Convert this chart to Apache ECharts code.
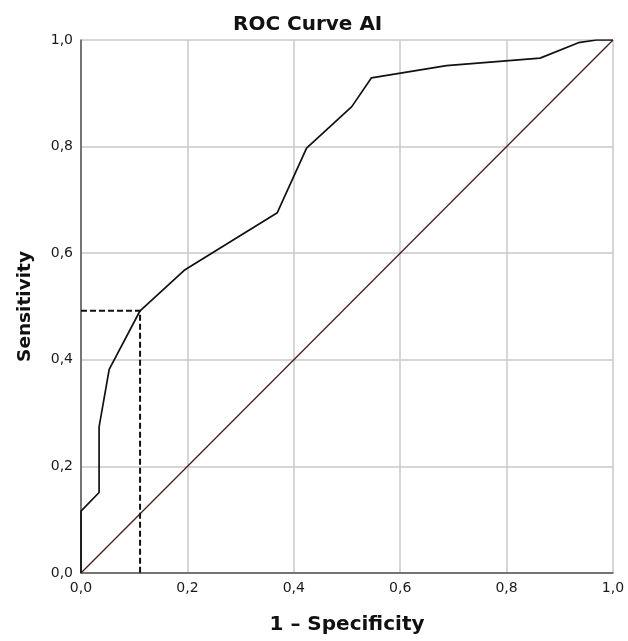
<!DOCTYPE html>
<html><head><meta charset="utf-8">
<script src="https://cdn.jsdelivr.net/npm/echarts@6/dist/echarts.min.js"></script>
<style>html,body{margin:0;padding:0;background:#fff}#c{width:628px;height:641px}</style>
</head><body><div id="c"></div>
<script>
const rocX = [0, 0, 0.034, 0.034, 0.053, 0.111, 0.194, 0.369, 0.424, 0.509, 0.546, 0.687, 0.863, 0.935, 0.969, 1.0];
const rocY = [0, 0.116, 0.151, 0.274, 0.382, 0.492, 0.568, 0.676, 0.797, 0.875, 0.929, 0.952, 0.966, 0.995, 1.0, 1.0];
const refX = [0, 1];
const refY = [0, 1];
const cutX = [0, 0.111, 0.111];
const cutY = [0.492, 0.492, 0];
const ticks = [0, 0.2, 0.4, 0.6, 0.8, 1.0];
const fmt = v => v.toFixed(1).replace('.', ',');
const zip = (a, b) => a.map((v, i) => [v, b[i]]);
const chart = echarts.init(document.getElementById('c'));
const ff = '"DejaVu Sans", "Open Sans", sans-serif';
chart.setOption({
  animation: false,
  title: { text: 'ROC Curve AI', left: 228, top: 10,
    textStyle: { fontFamily: ff, fontWeight: 'bold', fontSize: 20, color: '#111' } },
  grid: { left: 81, right: 15, top: 40, bottom: 68 },
  xAxis: { type: 'value', min: 0, max: 1, interval: 0.2,
    name: '1 – Specificity', nameLocation: 'middle', nameGap: 42,
    nameTextStyle: { fontFamily: ff, fontWeight: 'bold', fontSize: 20, color: '#111' },
    axisLine: { lineStyle: { color: '#555', width: 1.5 } },
    axisTick: { show: false },
    axisLabel: { formatter: fmt, fontFamily: ff, fontSize: 14, color: '#1a1a1a', margin: 8 },
    splitLine: { show: true, lineStyle: { color: '#c8c8c8', width: 1.5 } } },
  yAxis: { type: 'value', min: 0, max: 1, interval: 0.2,
    name: 'Sensitivity', nameLocation: 'middle', nameGap: 46,
    nameTextStyle: { fontFamily: ff, fontWeight: 'bold', fontSize: 18.5, color: '#111' },
    axisLine: { show: true, lineStyle: { color: '#555', width: 1.5 } },
    axisTick: { show: false },
    axisLabel: { formatter: fmt, fontFamily: ff, fontSize: 14, color: '#1a1a1a', margin: 8 },
    splitLine: { show: true, lineStyle: { color: '#c8c8c8', width: 1.5 } } },
  series: [
    { type: 'line', data: zip(refX, refY), symbol: 'none', lineStyle: { color: '#4a1c1c', width: 1.3 } },
    { type: 'line', data: zip(cutX, cutY), symbol: 'none', lineStyle: { color: '#111', width: 2, type: [6, 3] } },
    { type: 'line', data: zip(rocX, rocY), symbol: 'none', lineStyle: { color: '#111', width: 1.7 } }
  ]
});
</script></body></html>
